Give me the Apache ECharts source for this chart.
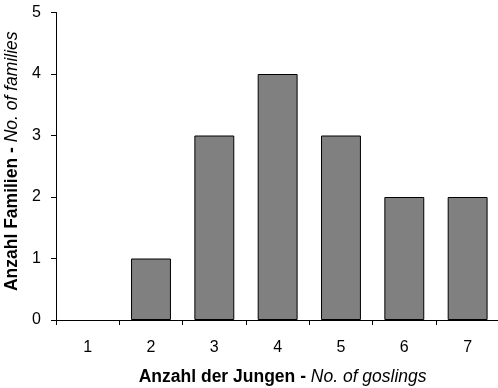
<!DOCTYPE html>
<html>
<head>
<meta charset="utf-8">
<script src="https://cdn.jsdelivr.net/npm/echarts@6/dist/echarts.min.js"></script>
<style>html,body{margin:0;padding:0;background:#fff;}#c{width:498px;height:388px;}</style>
</head>
<body>
<div id="c"></div>
<script>
const categories = ['1','2','3','4','5','6','7'];
const families = [0, 1, 3, 4, 3, 2, 2];
const yTicks = [0, 1, 2, 3, 4, 5];

const chart = echarts.init(document.getElementById('c'), null, {renderer: 'canvas'});
const font = '"Liberation Sans", Arial, sans-serif';
chart.setOption({
  animation: false,
  textStyle: {fontFamily: font},
  grid: {left: 56, top: 12.5, width: 443.3, height: 307.5, containLabel: false, outerBoundsMode: 'none'},
  xAxis: {
    type: 'category',
    data: categories,
    axisLine: {lineStyle: {color: '#000', width: 1}},
    axisTick: {show: true, length: 5, inside: false, alignWithLabel: false, lineStyle: {color: '#000'}},
    axisLabel: {color: '#000', fontSize: 16, fontFamily: font, margin: 20},
    name: '{b|Anzahl der Jungen - }{i|No. of goslings}',
    nameLocation: 'middle',
    nameGap: 48,
    nameTextStyle: {
      padding: [0, 0, 0, 10],
      rich: {
        b: {fontWeight: 'bold', fontSize: 17.5, color: '#000', fontFamily: font},
        i: {fontStyle: 'italic', fontSize: 17.5, color: '#000', fontFamily: font}
      }
    }
  },
  yAxis: {
    type: 'value',
    min: yTicks[0],
    max: yTicks[yTicks.length - 1],
    interval: 1,
    splitLine: {show: false},
    axisLine: {show: true, lineStyle: {color: '#000', width: 1}},
    axisTick: {show: true, length: 5, lineStyle: {color: '#000'}},
    axisLabel: {color: '#000', fontSize: 16, fontFamily: font, margin: 15},
    name: '{b|Anzahl Familien - }{i|No. of families}',
    nameLocation: 'middle',
    nameGap: 29,
    nameTextStyle: {
      padding: [0, 0, 0, 10],
      rich: {
        b: {fontWeight: 'bold', fontSize: 17.5, color: '#000', fontFamily: font},
        i: {fontStyle: 'italic', fontSize: 17.5, color: '#000', fontFamily: font}
      }
    }
  },
  series: [{
    type: 'bar',
    data: families.map(v => v === 0 ? {value: v, itemStyle: {borderWidth: 0}} : v),
    barWidth: '63%',
    itemStyle: {color: '#808080', borderColor: '#000', borderWidth: 1}
  }]
});
</script>
</body>
</html>
